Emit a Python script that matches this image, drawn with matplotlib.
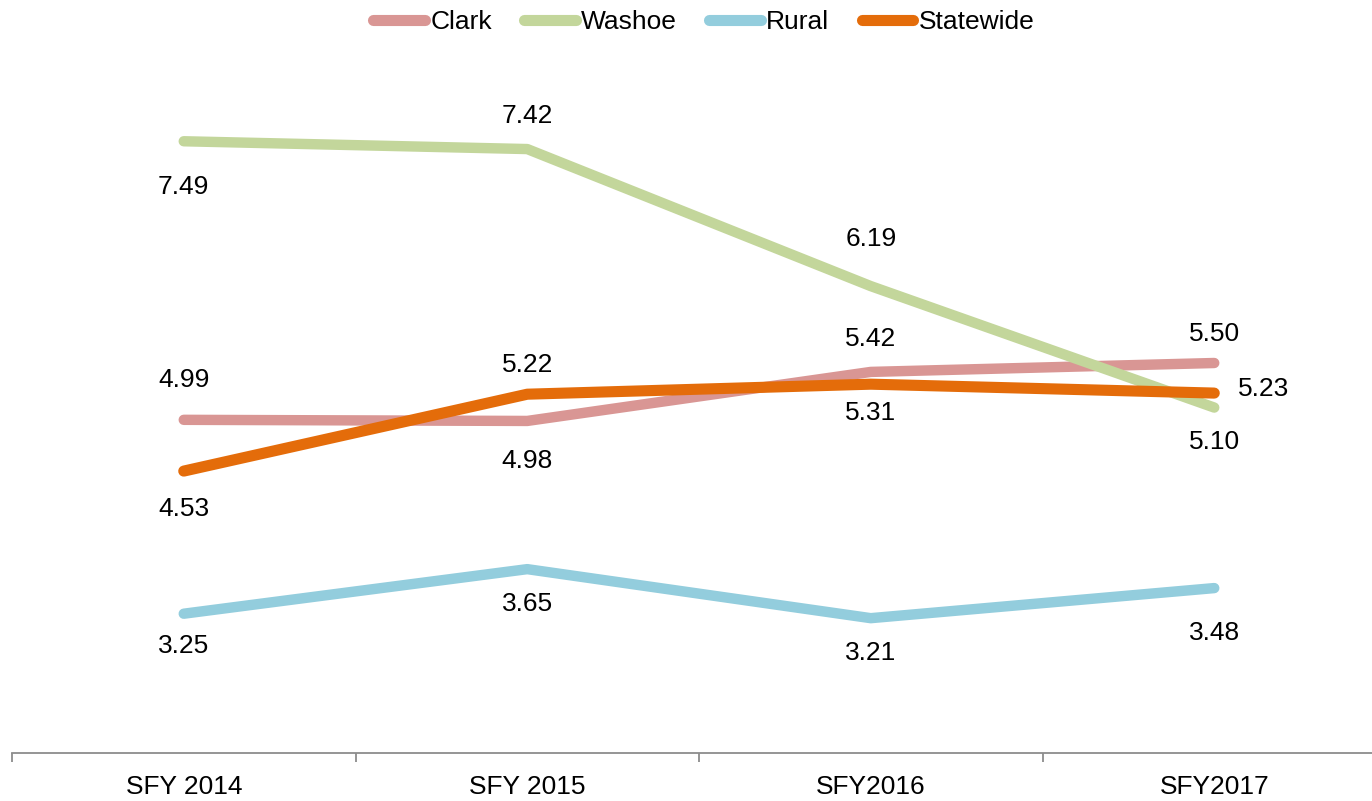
import numpy as np
import matplotlib.pyplot as plt

plt.rcParams['font.family'] = ['Liberation Sans', 'DejaVu Sans']

years = ["SFY 2014", "SFY 2015", "SFY2016", "SFY2017"]
clark = [4.99, 4.98, 5.42, 5.50]
washoe = [7.49, 7.42, 6.19, 5.10]
rural = [3.25, 3.65, 3.21, 3.48]
statewide = [4.53, 5.22, 5.31, 5.23]

# label offsets from each point, in points (dx, dy)
clark_off = [(0, 29), (0, -29), (0, 24), (0, 21)]
washoe_off = [(0, -33), (0, 24), (0, 34), (0, -25)]
rural_off = [(0, -23), (0, -25), (0, -25), (0, -32)]
statewide_off = [(0, -27), (0, 21), (0, -21), (17, 3)]

series = [
    ("Clark", clark, clark_off, '#D99694', 7.5),
    ("Washoe", washoe, washoe_off, '#C3D69B', 7.5),
    ("Rural", rural, rural_off, '#93CDDD', 7.5),
    ("Statewide", statewide, statewide_off, '#E46C0A', 8.0),
]

fs = 19

fig = plt.figure(figsize=(13.72, 8.01), dpi=100)
ax = fig.add_axes([12/1372, 48/801, 1374/1372, 780/801])

x = np.arange(len(years))
for name, vals, offs, col, lw in series:
    ax.plot(x, vals, color=col, lw=lw, solid_capstyle='round', label=name)
    for xi, v, off in zip(x, vals, offs):
        ha = 'left' if off[0] > 0 else 'center'
        ax.annotate(f"{v:.2f}", (xi, v), xytext=off, textcoords='offset points',
                    ha=ha, va='center', fontsize=fs, color='black')

ax.set_xlim(-0.5, 3.5)
ax.set_ylim(2, 9)
ax.set_yticks([])
for s in ['left', 'right', 'top']:
    ax.spines[s].set_visible(False)
ax.spines['bottom'].set_color('#8c8c8c')
ax.spines['bottom'].set_linewidth(1.3)

ax.set_xticks(x)
ax.set_xticklabels(years, fontsize=fs)
ax.tick_params(axis='x', which='major', length=0, pad=16)
ax.set_xticks(np.arange(-0.5, 3.6, 1), minor=True)
ax.tick_params(axis='x', which='minor', length=6.5, width=1.3, color='#8c8c8c')

leg = fig.legend(loc='center', bbox_to_anchor=(0.513, 1 - 22/801), ncol=4,
                 frameon=False, fontsize=fs, handlelength=1.95,
                 handletextpad=0.2, columnspacing=1.23)
for h in leg.get_lines():
    h.set_linewidth(8)
    h.set_solid_capstyle('round')

fig.savefig("out.png", dpi=100)
